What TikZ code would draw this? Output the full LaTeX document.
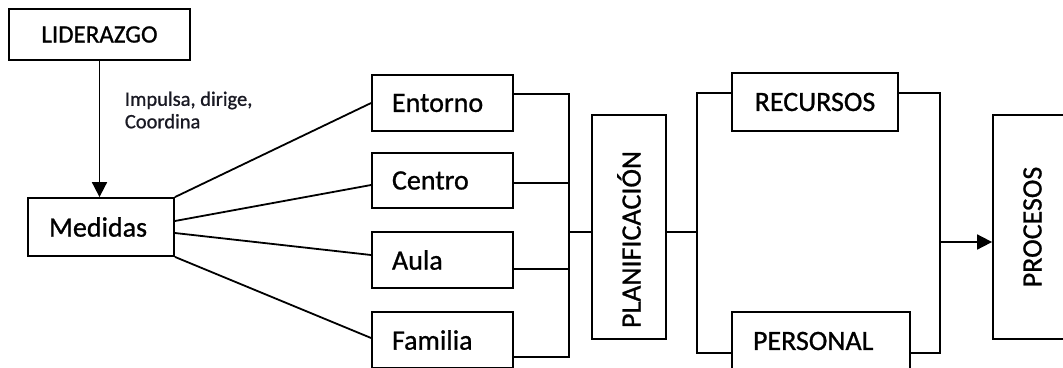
\documentclass[tikz,border=0pt]{standalone}
\usepackage{fontspec}
\setmainfont{Carlito}[FakeBold=0.9]
\usetikzlibrary{arrows.meta}
\begin{document}
\begin{tikzpicture}[x=1pt,y=-1pt,line width=1.8pt,
  box/.style={draw, line width=1.8pt, inner sep=0pt, font=\fontsize{28}{33}\selectfont},
  lbox/.style 2 args={box, inner xsep=#2, text width=#1, align=left},
  link/.style={line width=1.8pt},
  arr/.style={link, -{Triangle[width=15pt,length=15pt]}}]
\useasboundingbox (0,0) rectangle (1063,367);
% nodes
\node[box, font=\fontsize{25}{30}\selectfont, minimum width=181pt, minimum height=51pt] (lid) at (99.5,34.5) {LIDERAZGO};
\node[lbox={104pt}{21pt}, minimum height=58pt] (med) at (101,227) {Medidas};
\node[lbox={101pt}{20pt}, minimum height=56pt] (ent) at (442.5,103) {Entorno};
\node[lbox={101pt}{20pt}, minimum height=55pt] (cen) at (442.5,180.5) {Centro};
\node[lbox={101pt}{20pt}, minimum height=56pt] (aul) at (442.5,260) {Aula};
\node[lbox={101pt}{20pt}, minimum height=56pt] (fam) at (442.5,340) {Familia};
\node[lbox={202pt}{11pt}, rotate=90, minimum height=74pt] (plan) at (629,227) {PLANIFICACIÓN};
\node[box, minimum width=166pt, minimum height=58pt] (rec) at (815,102) {RECURSOS};
\node[lbox={136pt}{21pt}, minimum height=58pt] (per) at (821,341) {PERSONAL};
\node[box, rotate=90, minimum width=224pt, minimum height=79pt] (proc) at (1032.5,227) {PROCESOS};
\node[anchor=west, inner sep=0pt, align=left, text={rgb,255:red,25;green,25;blue,35},
  font=\fontsize{20.5}{22.5}\selectfont] (lbl) at (124,110) {Impulsa, dirige,\\Coordina};
% junction coordinates
\coordinate (busA) at (569,232);
\coordinate (busB) at (697,232);
\coordinate (busC) at (940,242);
% connectors
\draw[arr] (lid.south) -- (lid.south |- med.north);
\draw[link] (med.north east) -- (ent.west);
\draw[link] ([yshift=6pt]med.east) -- ([yshift=-4.5pt]cen.west);
\draw[link] ([yshift=-6pt]med.east) -- ([yshift=5pt]aul.west);
\draw[link] (med.south east) -- ([yshift=2pt]fam.west);
\draw[link] ([yshift=9pt]ent.east) -| (busA) |- ([yshift=-17pt]fam.east);
\draw[link] ([yshift=-2.5pt]cen.east) -| (busA);
\draw[link] ([yshift=-9pt]aul.east) -| (busA);
\draw[link] (busA) -- (busA -| plan.north);
\draw[link] (busB -| plan.south) -- (busB);
\draw[link] ([yshift=9pt]rec.west) -| (busB) |- ([yshift=-12pt]per.west);
\draw[link] ([yshift=9pt]rec.east) -| (busC) |- ([yshift=-12pt]per.east);
\draw[arr] (busC) -- (busC -| proc.north);
\end{tikzpicture}
\end{document}
